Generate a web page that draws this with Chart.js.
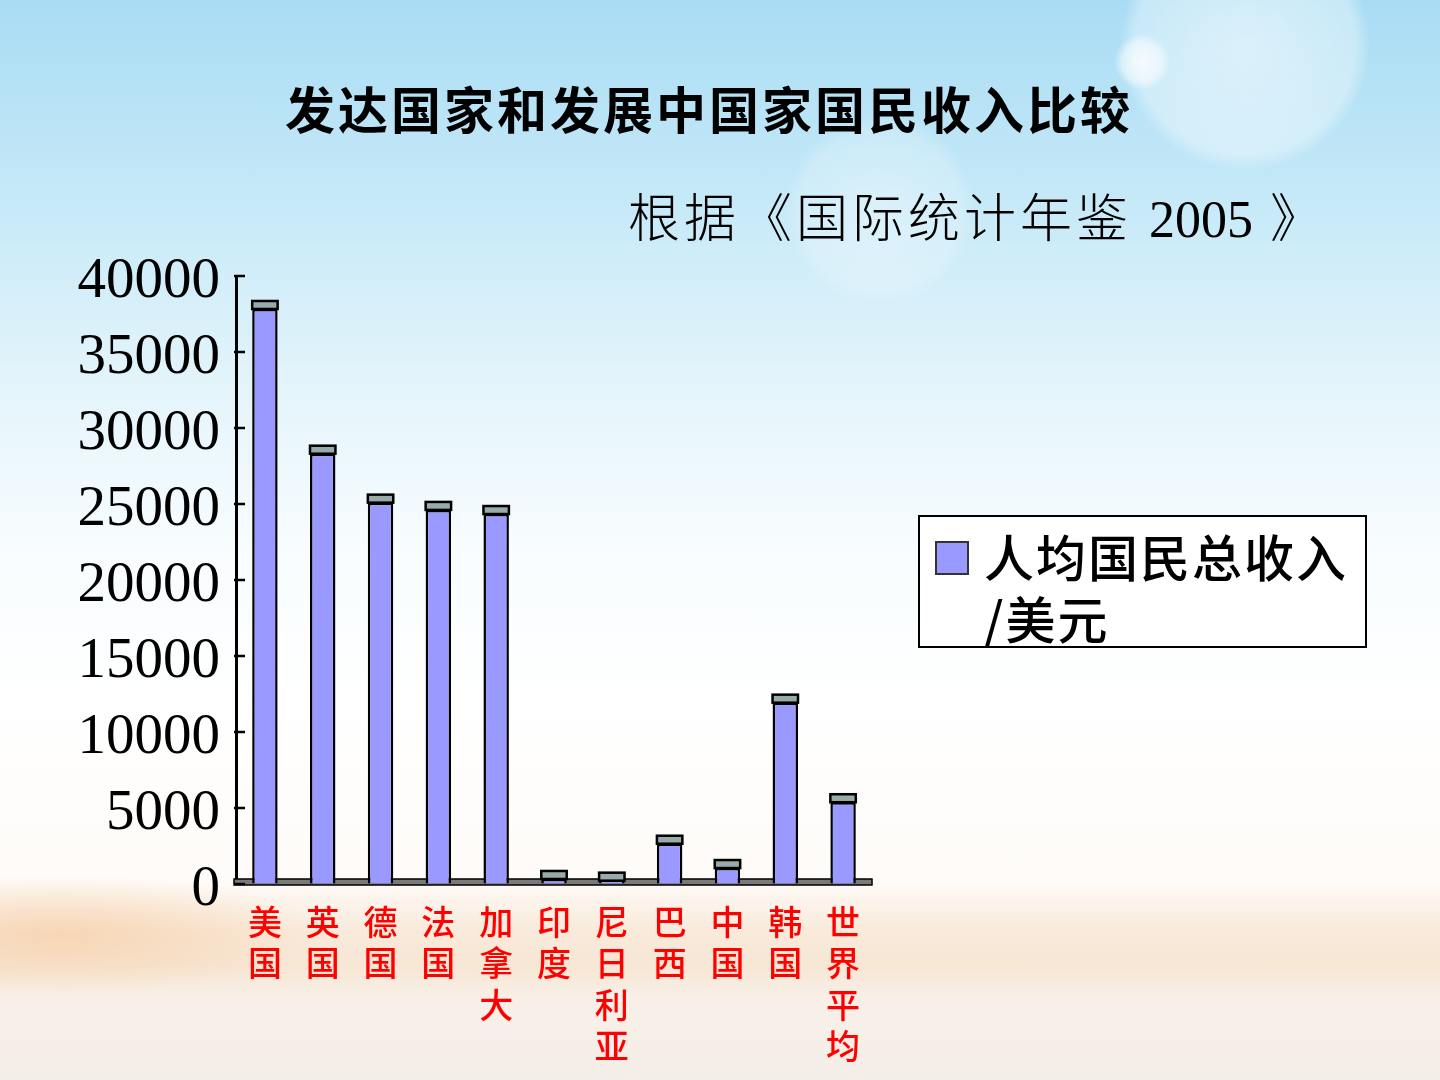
<!DOCTYPE html>
<html>
<head>
<meta charset="utf-8">
<script src="https://cdn.jsdelivr.net/npm/chart.js@4.4.1/dist/chart.umd.min.js"></script>
<style>
  html, body { margin: 0; padding: 0; }
  body {
    width: 1440px; height: 1080px; overflow: hidden; position: relative;
    background:
      radial-gradient(circle at 1245px 45px, rgba(255,255,255,0.55) 0, rgba(255,255,255,0.35) 110px, rgba(255,255,255,0) 125px),
      radial-gradient(circle at 1142px 62px, rgba(255,255,255,0.8) 0, rgba(255,255,255,0.5) 20px, rgba(255,255,255,0) 28px),
      radial-gradient(circle at 880px 210px, rgba(255,255,255,0.35) 0, rgba(255,255,255,0.2) 80px, rgba(255,255,255,0) 95px),
      radial-gradient(ellipse 260px 60px at 60px 935px, rgba(246,205,165,0.7) 0, rgba(246,205,165,0) 100%),
      linear-gradient(to bottom, #a9dcf4 0px, #c6e9f8 200px, #e3f4fb 380px, #f7fcfe 540px, #ffffff 700px, #fefbf8 880px, #f9eadb 930px, #f7e6d4 965px, #f8f0e8 1000px, #f4eee8 1080px);
  }
  #wrap { position: absolute; left: 0; top: 0; width: 1440px; height: 1080px; }
  .title {
    position: absolute; left: 0; width: 1418px; top: 76px; text-align: center;
    font-family: "Noto Sans CJK SC", sans-serif; font-weight: 700; font-size: 50px;
    letter-spacing: 3px; color: #000; line-height: 62px;
  }
  .source {
    position: absolute; left: 628px; top: 188px; white-space: nowrap;
    font-family: "Liberation Serif", "Noto Sans CJK SC", serif; font-weight: 300; font-size: 52px;
    letter-spacing: 4px; color: #000; line-height: 64px;
  }
  .source span { letter-spacing: 0; }
</style>
</head>
<body>
<div class="title">发达国家和发展中国家国民收入比较</div>
<div class="source">根据《国际统计年鉴 <span>2005</span> 》</div>
<div id="wrap"><canvas id="grafico1" width="1440" height="1080"></canvas></div>
<script>
// categorias y valores (USD per capita)
const categories = ['美国', '英国', '德国', '法国', '加拿大', '印度', '尼日利亚', '巴西', '中国', '韩国', '世界平均'];
const gniPerCapita = [37830, 28310, 25090, 24610, 24340, 330, 220, 2650, 1050, 11930, 5380];
const seriesLabel = '人均国民总收入/美元';
const legendLines = ['人均国民总收入', '/美元'];
const yMin = 0;
const yMax = 40000;
const yStep = 5000;

const barBlue = '#9999ff';
const capGrey = '#98aaaa';

// tapas grises de las barras 3D + suelo
const bar3d = {
    id: 'bar3d',
    beforeDatasetsDraw(chart) {
        const { ctx, chartArea, scales } = chart;
        const y0 = scales.y.getPixelForValue(0);
        ctx.save();
        ctx.fillStyle = '#7a7a7a';
        ctx.strokeStyle = '#000';
        ctx.lineWidth = 1.5;
        ctx.fillRect(chartArea.left - 2, y0 - 5, chartArea.right - chartArea.left + 2, 6);
        ctx.strokeRect(chartArea.left - 2, y0 - 5, chartArea.right - chartArea.left + 2, 6);
        ctx.restore();
    },
    afterDatasetsDraw(chart) {
        const { ctx } = chart;
        const meta = chart.getDatasetMeta(0);
        const capH = 8;
        ctx.save();
        meta.data.forEach(bar => {
            const p = bar.getProps(['x', 'y', 'width'], true);
            ctx.fillStyle = capGrey;
            ctx.fillRect(p.x - p.width / 2, p.y - capH, p.width, capH);
            ctx.strokeStyle = '#000';
            ctx.lineWidth = 2.5;
            ctx.strokeRect(p.x - p.width / 2, p.y - capH, p.width, capH);
        });
        ctx.restore();
    },
    afterDraw(chart) {
        const { ctx, chartArea, scales } = chart;
        ctx.save();
        // marcas y etiquetas del eje Y
        ctx.strokeStyle = '#000';
        ctx.fillStyle = '#000';
        ctx.lineWidth = 2.5;
        ctx.font = '57px "Liberation Serif"';
        ctx.textAlign = 'right';
        ctx.textBaseline = 'middle';
        scales.y.ticks.forEach(t => {
            const y = scales.y.getPixelForValue(t.value);
            ctx.beginPath();
            ctx.moveTo(chartArea.left - 2, y);
            ctx.lineTo(chartArea.left + 9, y);
            ctx.stroke();
            ctx.fillText(String(t.value), chartArea.left - 16, y + 6);
        });

        // leyenda
        const lx = 919, ly = 516, lw = 447, lh = 131;
        ctx.fillStyle = '#fff';
        ctx.fillRect(lx, ly, lw, lh);
        ctx.strokeStyle = '#000';
        ctx.lineWidth = 2;
        ctx.strokeRect(lx, ly, lw, lh);
        ctx.fillStyle = barBlue;
        ctx.fillRect(936, 542, 32, 32);
        ctx.strokeStyle = '#333';
        ctx.lineWidth = 2;
        ctx.strokeRect(936, 542, 32, 32);
        ctx.fillStyle = '#000';
        ctx.font = '500 50px "Noto Sans CJK SC"';
        ctx.textBaseline = 'middle';
        ctx.textAlign = 'left';
        if (ctx.letterSpacing !== undefined) ctx.letterSpacing = '2px';
        ctx.fillText(legendLines[0], 984, 558);
        ctx.fillText(legendLines[1], 984, 620);
        ctx.restore();
    }
};

const ctx = document.getElementById('grafico1').getContext('2d');
const chartInstance = new Chart(ctx, {
    type: 'bar',
    data: {
        labels: categories.map(c => c.split('')),
        datasets: [{
            label: seriesLabel,
            data: gniPerCapita,
            backgroundColor: barBlue,
            borderColor: '#000',
            borderWidth: 2.5,
            barPercentage: 0.44,
            categoryPercentage: 1.0
        }]
    },
    options: {
        responsive: false,
        animation: false,
        layout: { padding: { top: 276, right: 568, bottom: 0, left: 0 } },
        plugins: {
            legend: { display: false },
            tooltip: { enabled: false }
        },
        scales: {
            x: {
                afterFit: s => { s.height = 196; },
                grid: { display: false, drawTicks: false },
                border: { display: false },
                ticks: {
                    color: '#ff0000',
                    padding: 17,
                    maxRotation: 0,
                    autoSkip: false,
                    font: { family: '"Noto Sans CJK SC"', size: 34, weight: '500', lineHeight: 1.22 }
                }
            },
            y: {
                min: yMin,
                max: yMax,
                afterFit: s => { s.width = 236; },
                grid: { drawOnChartArea: false, drawTicks: false },
                border: { display: true, color: '#000', width: 3 },
                ticks: {
                    stepSize: yStep,
                    display: false
                }
            }
        }
    },
    plugins: [bar3d]
});
</script>
</body>
</html>
